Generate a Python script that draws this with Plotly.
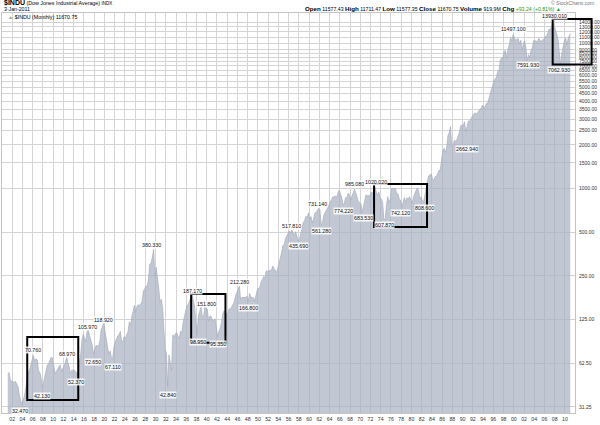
import math
import plotly.graph_objects as go

# ---------------- data: quarterly closes of $INDU ----------------
# 1901-1909
dj_1900s = [53, 54, 48, 47,  47, 46, 47, 45,  43, 38, 34, 32.47,  35, 37, 42, 49,
            54, 56, 60, 66,  70.76, 65, 67, 66,  56, 54, 50, 42.13,  46, 52, 56, 61,
            62, 65, 69, 68]
dj_1910s = [60, 53, 55, 57,  59, 61, 55, 57,  60, 63, 68.97, 63,  59, 53, 56, 56,
            56, 55, 52.37, 54.58,  60.8, 71.8, 90.6, 99.2,  93.3, 88.0, 103.7, 105.97,
            96.7, 90.5, 83.5, 72.65,  77.5, 82.9, 82.3, 82.2,  89.1, 106.9, 111.4, 118.92]
dj_1920s = [104, 91, 82.9, 71.95,  75.8, 68.5, 67.11, 81.1,  87.5, 92.9, 96.6, 98.2,
            103.6, 87.9, 87.9, 95.5,  93, 98.4, 103, 120.5,  115, 131, 144, 156.7,
            140, 154.5, 158, 157.2,  160, 166, 197, 202.4,  213, 210, 240, 300,
            308, 333.8, 380.33, 248.5]
dj_1930s = [286, 226, 204.9, 164.6,  172.4, 150.2, 96.6, 77.9,  73.3, 42.84, 71.6, 60.0,
            55.7, 98.1, 94.0, 99.9,  101.9, 95.9, 92.6, 104.0,  100.8, 118.2, 131.9, 144.1,
            156.3, 157.7, 167.8, 179.9,  187.17, 169.3, 154.6, 121.0,  98.95, 133.9, 141.5, 154.8,
            131.8, 130.6, 152.5, 150.2]
dj_1940s = [147.5, 121.9, 132.6, 131.1,  122.7, 123.1, 126.8, 110.96,  95.35, 103.3, 109.1, 119.4,
            136.6, 143.4, 140.1, 135.9,  138.8, 148.4, 146.7, 152.3,  156.2, 164.9, 181.7, 192.9,
            199.6, 212.28, 172.4, 177.2,  177.2, 177.3, 177.5, 181.2,  166.8, 189.5, 178.3, 177.3,
            177.1, 167.4, 182.5, 200.1]
dj_1950s = [206, 209.1, 226.4, 235.4,  247.9, 242.6, 271.2, 269.2,  269.5, 274.3, 270.6, 291.9,
            279.9, 268.3, 264.0, 280.9,  303.5, 334, 360.5, 404.4,  409.7, 451.4, 466.6, 488.4,
            511.8, 492.8, 517.81, 499.5,  474.8, 503.3, 456.3, 435.69,  446.8, 478.2, 532.1, 583.7,
            601.7, 643.6, 631.7, 679.4]
dj_1960s = [616.6, 640.6, 580.1, 615.9,  676.6, 683.9, 701.2, 731.14,  706.9, 561.28, 578.9, 652.1,
            682.5, 707, 743.2, 763,  813.3, 831.5, 875.4, 874.1,  889.1, 868, 930.6, 969.3,
            924.8, 870.1, 774.22, 785.7,  865.98, 860.3, 926.7, 905.1,  840.7, 897.8, 935.8, 985.08,
            935.5, 873.2, 813.1, 800.4]
dj_1970s = [785.6, 683.53, 760.7, 838.9,  904.4, 891.1, 887.2, 890.2,  940.7, 929, 953.3, 1020.02,
            951, 891.7, 947.1, 850.9,  846.7, 802.4, 607.87, 616.2,  768.2, 879, 793.9, 852.4,
            999.5, 1002.8, 990.2, 1004.7,  919.1, 916.3, 847.1, 831.2,  742.12, 819, 865.8, 805,
            862.2, 841.98, 878.6, 838.7]
dj_1980s = [785.8, 867.9, 932.4, 964,  1003.9, 976.9, 850, 875,  822.8, 808.6, 896.3, 1046.5,
            1130, 1222, 1233, 1258.6,  1164.9, 1132.4, 1206.7, 1211.6,  1266.8, 1335.5, 1328.6, 1546.7,
            1818.6, 1892.7, 1767.6, 1896,  2304.7, 2418.5, 2662.94, 1938.8,  1988.1, 2141.7, 2112.9, 2168.6,
            2293.6, 2440.1, 2692.8, 2753.2]
dj_1990s = [2707.2, 2880.7, 2452.5, 2633.7,  2913.9, 2906.8, 3016.8, 3168.8,  3235.5, 3318.5, 3271.7, 3301.1,
            3435.1, 3516.1, 3555.1, 3754.1,  3635.96, 3624.96, 3843.2, 3834.4,  4157.7, 4556.1, 4789.1, 5117.1,
            5587.1, 5654.6, 5882.2, 6448.3,  6583.5, 7672.8, 7945.3, 7908.3,  8799.8, 8952, 7842.6, 9181.4,
            9786.2, 10970.8, 10336.95, 11497.12]
dj_2000s = [10921.9, 10447.9, 10650.9, 10787.99,  9878.8, 10502.4, 8847.6, 10021.5,  10403.9, 9243.3, 7591.93, 8341.6,
            7992.1, 8985.4, 9275.1, 10453.9,  10357.7, 10435.5, 10080.3, 10783,  10503.8, 10275, 10568.7, 10717.5,
            11109.3, 11150.2, 11679.1, 12463.2,  12354.35, 13408.6, 13930.01, 13264.8,  12262.9, 11350, 10850.7, 8776.4,
            7062.93, 8447, 9712.3, 10428]
dj_2010s = [10856.6, 9774, 10788, 11577.5]
first_year = 1901
last_date = 2011.04          # Jan 2011 (monthly bar)
last_close = 11670.75

# year ticks
tick_years = list(range(1902, 2011, 2))
tick_labels = ["%02d" % (y % 100) for y in tick_years]

# price ticks
price_ticks = [31.25, 62.5, 125, 250, 500, 1000, 1500, 2000, 2500, 3000, 3500, 4000, 4500, 5000,
               5500, 6000, 6500, 7000, 7500, 8000, 8500, 9000, 10000, 11000, 12000, 13000, 14000]
price_tick_labels = ["%.2f" % v for v in price_ticks]

# annotation labels (text, year, value)
label_texts = ["32.470", "42.130", "70.760", "68.970", "52.370", "105.970", "72.650", "118.920", "67.110",
               "42.840", "380.330", "187.170", "151.800", "98.950", "95.350", "212.280", "166.800",
               "517.810", "435.690", "731.140", "561.280", "985.080", "774.220", "683.530", "1020.020",
               "607.870", "742.120", "808.600", "2662.940", "11497.100", "7591.930", "13930.010", "7062.930"]
label_years = [1903.56, 1907.86, 1906.10, 1912.74, 1914.5, 1916.65, 1917.82, 1919.77, 1921.73,
               1932.47, 1929.15, 1937.16, 1939.89, 1938.33, 1942.23, 1946.34, 1948.09,
               1956.49, 1957.86, 1961.57, 1962.35, 1968.80, 1966.65, 1970.55, 1973.09,
               1974.66, 1977.78, 1982.47, 1990.87, 1999.85, 2002.78, 2008.05, 2008.83]
label_values = [29.3, 37.2, 77.2, 72.4, 46.5, 111.2, 63.8, 124.2, 58.9,
                37.8, 408.1, 196.8, 160.1, 87.6, 84.9, 226.9, 150.3,
                551.6, 401.6, 782.2, 509.7, 1074, 700, 626.3, 1108.8,
                560.6, 678.1, 734.1, 1871, 12553, 7091, 15425, 6553]

# highlight boxes (year range, value range)
box_year0 = [1904.93, 1936.96, 1972.70, 2007.60]
box_year1 = [1914.90, 1943.66, 1983.05, 2015.20]
box_low = [34.9, 86.6, 542, 7158]
box_high = [94.8, 187.2, 1074, 14720]

# ---------------- figure ----------------
W, H = 600, 425
ML, MR, MT, MB = 2, 25, 13, 12
X_RANGE = [1900.0, 2011.96]
Y_RANGE = [math.log10(28.4), math.log10(16178)]
PW, PH = W - ML - MR, H - MT - MB

def px_x(px):
    return (px - ML) / PW

def px_y(py):
    return (H - MB - py) / PH

closes = dj_1900s + dj_1910s + dj_1920s + dj_1930s + dj_1940s + dj_1950s + dj_1960s + \
    dj_1970s + dj_1980s + dj_1990s + dj_2000s + dj_2010s
dates = [first_year + 0.125 + 0.25 * i for i in range(len(closes))]
dates.append(last_date)
closes = closes + [last_close]

FONT = "Arial"
fig = go.Figure()
fig.add_trace(go.Scatter(
    x=dates, y=closes, mode="lines", fill="tozeroy",
    line=dict(color="#a7aebb", width=0.7),
    fillcolor="rgba(168,176,192,0.70)",
    hoverinfo="skip", showlegend=False))

annotations = []
for t, yv, v in zip(label_texts, label_years, label_values):
    annotations.append(dict(x=yv, y=math.log10(v), xref="x", yref="y", text=t, showarrow=False,
                            font=dict(family=FONT, size=5.3, color="#111"),
                            bgcolor="rgba(255,255,255,0.85)", borderpad=0))

BLK = "color:#000000"
annotations.append(dict(x=px_x(2), y=px_y(3), xref="paper", yref="paper", xanchor="left", yanchor="middle",
                        showarrow=False,
                        text="<b><span style='font-size:7px;%s'>$INDU</span></b> (Dow Jones Industrial Average) "
                             "<span style='font-size:4.5px'>INDX</span>" % BLK,
                        font=dict(family=FONT, size=5.3, color="#000")))
annotations.append(dict(x=px_x(2), y=px_y(8.7), xref="paper", yref="paper", xanchor="left", yanchor="middle",
                        showarrow=False, text="3-Jan-2011",
                        font=dict(family=FONT, size=5.2, color="#000")))
hdr_fields = ["Open", "High", "Low", "Close", "Volume", "Chg"]
hdr_values = ["11577.43", "11711.47", "11577.35", "11670.75", "919.9M", "+93.24 (+0.81%) ▲"]
parts = []
for f, v in zip(hdr_fields, hdr_values):
    vstyle = "color:#1a9a1a" if f == "Chg" else BLK
    parts.append("<b><span style='font-size:6.2px;%s'>%s</span></b> <span style='%s'>%s</span>" % (BLK, f, vstyle, v))
annotations.append(dict(x=px_x(303), y=px_y(8.7), xref="paper", yref="paper", xanchor="left", yanchor="middle",
                        showarrow=False, text=" ".join(parts),
                        font=dict(family=FONT, size=5.2, color="#000")))
annotations.append(dict(x=px_x(596), y=px_y(2.8), xref="paper", yref="paper", xanchor="right", yanchor="middle",
                        showarrow=False, text="© StockCharts.com",
                        font=dict(family=FONT, size=5, color="#777")))
annotations.append(dict(x=px_x(6), y=px_y(16.5), xref="paper", yref="paper", xanchor="left", yanchor="middle",
                        showarrow=False,
                        text="<span style='color:#9aa3b3'>▲</span> $INDU (Monthly) 11670.75",
                        font=dict(family=FONT, size=5.3, color="#000")))

shapes = []
span = X_RANGE[1] - X_RANGE[0]
for a, b, lo, hi in zip(box_year0, box_year1, box_low, box_high):
    shapes.append(dict(type="rect", xref="paper", yref="y",
                       x0=(a - X_RANGE[0]) / span, x1=(b - X_RANGE[0]) / span,
                       y0=lo, y1=hi, line=dict(color="#000", width=2), layer="above"))

fig.update_layout(
    width=W, height=H, margin=dict(l=ML, r=MR, t=MT, b=MB, autoexpand=False),
    paper_bgcolor="white", plot_bgcolor="white", showlegend=False,
    xaxis=dict(range=X_RANGE, tickvals=tick_years, ticktext=tick_labels, showgrid=True, automargin=False,
               gridcolor="#d4d4d4", gridwidth=1, zeroline=False, showline=True, linecolor="#c4c4c4",
               linewidth=1, mirror=True, ticks="", ticklen=0, ticklabelstandoff=1,
               tickfont=dict(family=FONT, size=5.2, color="#333")),
    yaxis=dict(type="log", range=Y_RANGE, side="right", tickvals=price_ticks, ticktext=price_tick_labels,
               showgrid=True, gridcolor="#d4d4d4", gridwidth=1, zeroline=False, showline=True, automargin=False,
               linecolor="#c4c4c4", linewidth=1, mirror=True, ticks="", ticklen=0, ticklabelstandoff=2,
               tickfont=dict(family=FONT, size=5, color="#333")),
    annotations=annotations, shapes=shapes,
)

fig.write_html("out.html", config={"displayModeBar": False},
               post_script="document.body.style.margin='0';document.body.style.padding='0';")
